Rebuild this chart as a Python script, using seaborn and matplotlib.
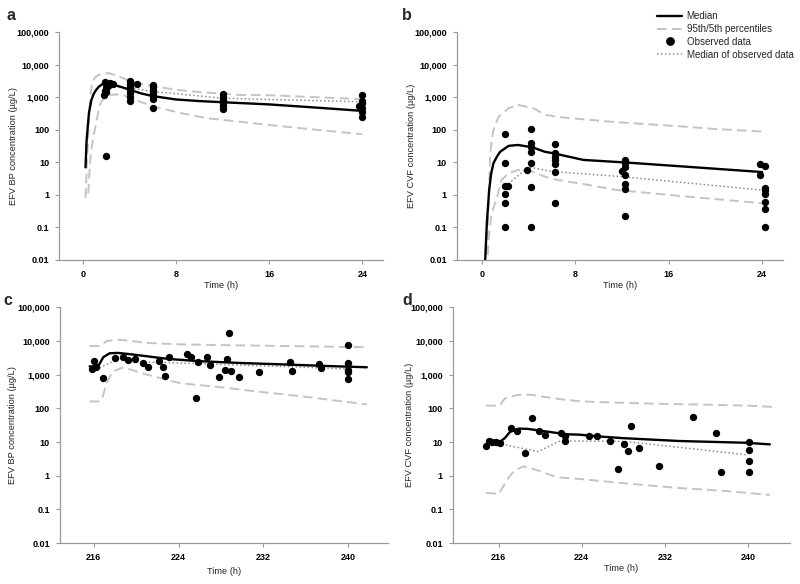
import numpy as np
import matplotlib
matplotlib.use("Agg")
import matplotlib.pyplot as plt
from matplotlib.lines import Line2D
import seaborn as sns

# ---- panel a: EFV BP, first dose ----
med_a_t = [0.2, 0.3, 0.5, 0.7, 0.9, 1.1, 1.35, 1.6, 1.9, 2.3, 3.0, 4.0, 5.0, 6.0, 8, 10, 12, 16, 20, 24]
med_a_v = [7, 50, 330, 800, 1250, 1650, 2100, 2450, 2650, 2600, 2200, 1700, 1300, 1080, 850, 760, 700, 600, 480, 380]
up_a_t = [0.2, 0.34, 0.49, 0.62, 0.77, 1.0, 1.35, 1.8, 2.2, 3.0, 3.8, 5.0, 6.1, 8.0, 9.5, 13.5, 16, 20, 24]
up_a_v = [0.8, 12, 200, 1100, 2700, 4000, 4900, 5300, 5500, 4400, 3400, 2600, 2130, 1700, 1490, 1170, 1150, 1000, 870]
lo_a_t = [0.43, 0.63, 0.85, 1.06, 1.3, 1.49, 1.8, 2.2, 3.1, 3.8, 5.0, 6.6, 8.5, 10.7, 13.2, 16, 20, 24]
lo_a_v = [1.1, 15, 55, 125, 350, 650, 950, 1170, 1230, 1050, 700, 460, 320, 225, 180, 140, 100, 73]
dot_a_t = [2, 4, 6, 12, 24]
dot_a_v = [2400, 1900, 1500, 930, 720]
obs_a_t = [1.9, 2.0, 2.1, 2.0, 1.9, 2.0, 1.8, 2.0, 2.3, 2.6,
           4.0, 4.0, 4.0, 4.0, 4.0, 4.0, 4.0, 4.6,
           6.0, 6.0, 6.0, 6.0, 6.0, 6.0, 6.0,
           12, 12, 12, 12, 12, 12, 12,
           24, 24, 24, 23.7, 24, 24, 24]
obs_a_v = [3000, 2600, 2200, 1900, 1600, 1400, 1150, 16, 2700, 2600,
           3200, 2500, 2000, 1700, 1300, 1000, 750, 2600,
           2400, 2000, 1700, 1350, 1100, 900, 480,
           1250, 1050, 900, 780, 650, 550, 430,
           1150, 750, 650, 540, 460, 350, 250]

# ---- panel b: EFV CVF, first dose ----
med_b_t = [0.26, 0.29, 0.43, 0.63, 0.8, 1.0, 1.3, 1.57, 2.3, 3.1, 4.3, 5.4, 6.1, 8.7, 12.4, 17.3, 24]
med_b_v = [0.005, 0.01, 0.13, 1.4, 4.5, 9.4, 15, 21, 32, 34, 29, 21, 19, 11.8, 9.8, 7.4, 5.0]
up_b_t = [0.3, 0.49, 0.6, 0.71, 0.85, 1.0, 1.43, 2.3, 3.1, 4.4, 5.4, 6.4, 8, 11.6, 17.3, 20, 24]
up_b_v = [0.005, 0.07, 0.9, 15, 50, 100, 250, 460, 580, 460, 290, 250, 220, 170, 125, 105, 88]
lo_b_t = [0.45, 0.6, 0.8, 1.0, 1.29, 1.7, 2.3, 3.1, 4.3, 5.4, 6.4, 8.5, 11.6, 17.3, 24]
lo_b_v = [0.005, 0.05, 0.2, 0.4, 0.8, 2.9, 4.6, 5.8, 5.2, 3.6, 2.9, 2.2, 1.4, 0.9, 0.55]
dot_b_t = [2, 4, 6, 12, 24]
dot_b_v = [1.8, 7.2, 5.2, 3.6, 1.4]
obs_b_t = [2.0, 2.0, 2.2, 2.0, 2.0, 2.0, 2.0,
           4.2, 4.2, 4.2, 4.2, 4.2, 4.2, 4.2, 3.85,
           6.3, 6.3, 6.3, 6.3, 6.3, 6.3, 6.3,
           12.3, 12.3, 12.3, 12.0, 12.3, 12.3, 12.3, 12.3,
           23.8, 24.2, 23.8, 24.2, 24.2, 24.2, 24.2, 24.2, 24.2]
obs_b_v = [75, 9.6, 1.9, 1.8, 1.04, 0.55, 0.1,
           106, 38, 30, 20, 9.6, 1.7, 0.1, 5.8,
           36, 19, 15, 12, 9, 5.2, 0.55,
           11.8, 9.4, 7.0, 5.5, 4.1, 2.1, 1.5, 0.22,
           8.9, 7.9, 4.1, 1.6, 1.4, 1.04, 0.59, 0.36, 0.1]

# ---- panel c: EFV BP, steady state ----
med_c_t = [215.6, 216.4, 216.9, 217.5, 218.3, 219.5, 221, 223.1, 226, 230, 234, 238, 241.8]
med_c_v = [1750, 1750, 3300, 4300, 4400, 4000, 3500, 2900, 2500, 2200, 2000, 1800, 1650]
up_c_t = [215.6, 216.5, 217.2, 218.1, 219.5, 221, 224.1, 228, 232, 236, 240, 241.6]
up_c_v = [7000, 7000, 9800, 11000, 10000, 8700, 7900, 7500, 7200, 6900, 6600, 6500]
lo_c_t = [215.6, 216.5, 216.85, 217.2, 217.8, 218.7, 219.5, 221, 224.1, 228, 232, 236, 241.8]
lo_c_v = [160, 160, 230, 560, 1250, 1600, 1400, 1000, 560, 420, 300, 220, 130]
dot_c_t = [216.2, 218.4, 220, 224.4, 230, 236, 240]
dot_c_v = [1400, 3000, 2400, 2200, 1900, 1650, 1450]
obs_c_t = [215.85, 216.06, 216.2, 216.9, 218.0, 218.8, 219.2, 219.9, 220.6, 221.1, 222.2, 222.5,
           222.7, 223.1, 224.8, 225.2, 225.7, 225.8, 226.7, 227.0, 227.8, 228.4, 228.6, 228.8,
           229.0, 229.7, 231.6, 234.5, 234.7, 237.3, 237.5, 240, 240, 240, 240, 240]
obs_c_v = [1500, 2500, 1700, 810, 3150, 3300, 2700, 2900, 2150, 1700, 2500, 1700,
           900, 3400, 4100, 3400, 200, 2400, 3350, 1900, 850, 1400, 2900, 17000,
           1300, 850, 1200, 2400, 1300, 2000, 1600, 7600, 2200, 1400, 1200, 740]

# ---- panel d: EFV CVF, steady state ----
med_d_t = [214.8, 215.2, 216.1, 216.6, 217.1, 218.0, 218.8, 219.9, 222.5, 223.8, 225.4, 228, 233.4, 239.8, 242.1]
med_d_v = [7.8, 10, 10, 13, 20, 25, 24.5, 22, 17, 16.5, 14.8, 13, 10.7, 9.5, 8.5]
up_d_t = [214.8, 216.1, 216.6, 217.7, 219.0, 220.6, 222, 224, 228, 232, 236, 240, 242.3]
up_d_v = [120, 120, 195, 245, 255, 215, 185, 160, 145, 135, 128, 120, 110]
lo_d_t = [214.8, 216.0, 216.4, 216.8, 217.5, 218.4, 219.9, 221.6, 223.8, 228, 233.4, 238, 242.1]
lo_d_v = [0.31, 0.29, 0.45, 0.75, 1.4, 1.9, 1.4, 0.9, 0.8, 0.6, 0.43, 0.35, 0.27]
dot_d_t = [214.8, 216.1, 219.8, 221.9, 228, 233.1, 239.8]
dot_d_v = [8.5, 8.9, 5.2, 10.7, 10.5, 7.1, 4.2]
obs_d_t = [214.8, 215.1, 215.4, 215.8, 216.1, 217.2, 217.8, 218.5, 219.2, 219.9, 220.5, 222.0, 222.4,
           222.4, 224.7, 225.5, 226.7, 227.5, 228.1, 228.5, 228.7, 229.5, 231.4, 234.7, 236.9,
           237.4, 240.1, 240.1, 240.1, 240.1]
obs_d_v = [7.8, 10.7, 10, 10, 9.3, 26, 21, 4.6, 53, 21, 16, 19, 15,
           11, 15.5, 15.5, 10.5, 1.6, 8.7, 5.5, 30, 6.6, 2.0, 54, 19,
           1.3, 10, 5.6, 2.7, 1.3]

ytick_vals = [0.01, 0.1, 1, 10, 100, 1000, 10000, 100000]
ytick_labels = ["0.01", "0.1", "1", "10", "100", "1,000", "10,000", "100,000"]
legend_labels = ["Median", "95th/5th percentiles", "Observed data", "Median of observed data"]

MED_COL = "black"
PCT_COL = "#c4c4c4"
DOT_COL = "#8c8c8c"
AX_COL = "#9a9a9a"

sns.set_style("ticks")
plt.rcParams["font.family"] = ["Liberation Sans", "DejaVu Sans"]

fig = plt.figure(figsize=(8, 5.84), dpi=100)

panels = [
    dict(letter="a", pos=[0.074, 0.555, 0.405, 0.390], xlim=(-2.06, 25.8), xt=[0, 8, 16, 24],
         ylab="EFV BP concentration (\u00b5g/L)", ylc=-0.128, xlc=-0.094, lx=0.008, ly=1 - 16 / 584,
         med=(med_a_t, med_a_v), up=(up_a_t, up_a_v), lo=(lo_a_t, lo_a_v), dot=(dot_a_t, dot_a_v),
         obs=(obs_a_t, obs_a_v)),
    dict(letter="b", pos=[0.571, 0.555, 0.408, 0.390], xlim=(-2.14, 25.8), xt=[0, 8, 16, 24],
         ylab="EFV CVF concentration (\u00b5g/L)", ylc=-0.125, xlc=-0.094, lx=0.503, ly=1 - 16 / 584,
         med=(med_b_t, med_b_v), up=(up_b_t, up_b_v), lo=(lo_b_t, lo_b_v), dot=(dot_b_t, dot_b_v),
         obs=(obs_b_t, obs_b_v)),
    dict(letter="c", pos=[0.075, 0.070, 0.410, 0.404], xlim=(212.8, 243.8), xt=[216, 224, 232, 240],
         ylab="EFV BP concentration (\u00b5g/L)", ylc=-0.130, xlc=-0.100, lx=0.004, ly=1 - 300 / 584,
         med=(med_c_t, med_c_v), up=(up_c_t, up_c_v), lo=(lo_c_t, lo_c_v), dot=(dot_c_t, dot_c_v),
         obs=(obs_c_t, obs_c_v)),
    dict(letter="d", pos=[0.566, 0.070, 0.421, 0.404], xlim=(211.6, 244.0), xt=[216, 224, 232, 240],
         ylab="EFV CVF concentration (\u00b5g/L)", ylc=-0.116, xlc=-0.088, lx=0.503, ly=1 - 300 / 584,
         med=(med_d_t, med_d_v), up=(up_d_t, up_d_v), lo=(lo_d_t, lo_d_v), dot=(dot_d_t, dot_d_v),
         obs=(obs_d_t, obs_d_v)),
]

dash_ls = (0, (5, 2.6))

for p in panels:
    ax = fig.add_axes(p["pos"])
    for key in ("up", "lo"):
        sns.lineplot(x=p[key][0], y=p[key][1], ax=ax, color=PCT_COL, lw=1.4, ls=dash_ls,
                     estimator=None, sort=False, errorbar=None)
    sns.lineplot(x=p["dot"][0], y=p["dot"][1], ax=ax, color=DOT_COL, lw=1.1, ls=(0, (1, 1.6)),
                 estimator=None, sort=False, errorbar=None)
    sns.lineplot(x=p["med"][0], y=p["med"][1], ax=ax, color=MED_COL, lw=1.7,
                 estimator=None, sort=False, errorbar=None)
    sns.scatterplot(x=p["obs"][0], y=p["obs"][1], ax=ax, color="black", s=28, linewidth=0, zorder=4)

    ax.set_yscale("log")
    ax.set_ylim(0.01, 100000)
    ax.set_yticks(ytick_vals)
    ax.set_yticklabels(ytick_labels)
    ax.minorticks_off()
    ax.set_xlim(*p["xlim"])
    ax.set_xticks(p["xt"])
    ax.set_xticklabels([str(v) for v in p["xt"]])

    sns.despine(ax=ax)
    for s in ("left", "bottom"):
        ax.spines[s].set_color(AX_COL)
        ax.spines[s].set_linewidth(0.9)
    ax.tick_params(axis="both", length=3, width=0.8, color=AX_COL, pad=4.2,
                   labelsize=6.5, labelcolor="black")
    for lab in ax.get_xticklabels() + ax.get_yticklabels():
        lab.set_fontweight("bold")

    ax.set_ylabel(p["ylab"], fontsize=6.7)
    ax.yaxis.set_label_coords(p["ylc"], 0.5)
    ax.set_xlabel("Time (h)", fontsize=6.7)
    ax.xaxis.set_label_coords(0.5, p["xlc"])

    fig.text(p["lx"], p["ly"], p["letter"], fontsize=11.5, fontweight="bold", va="center", ha="left")

    if p["letter"] == "b":
        handles = [
            Line2D([], [], color=MED_COL, lw=1.7),
            Line2D([], [], color=PCT_COL, lw=1.4, ls=dash_ls),
            Line2D([], [], color="black", lw=0, marker="o", markersize=5.3),
            Line2D([], [], color=DOT_COL, lw=1.1, ls=(0, (1, 1.6))),
        ]
        ax.legend(handles, legend_labels, loc="upper left",
                  bbox_to_anchor=(657 / 800, 1 - 11 / 584), bbox_transform=fig.transFigure,
                  frameon=False, fontsize=7.0, handlelength=2.6, handletextpad=0.45,
                  labelspacing=0.3, borderpad=0, borderaxespad=0)

fig.savefig("out.png", dpi=100)
